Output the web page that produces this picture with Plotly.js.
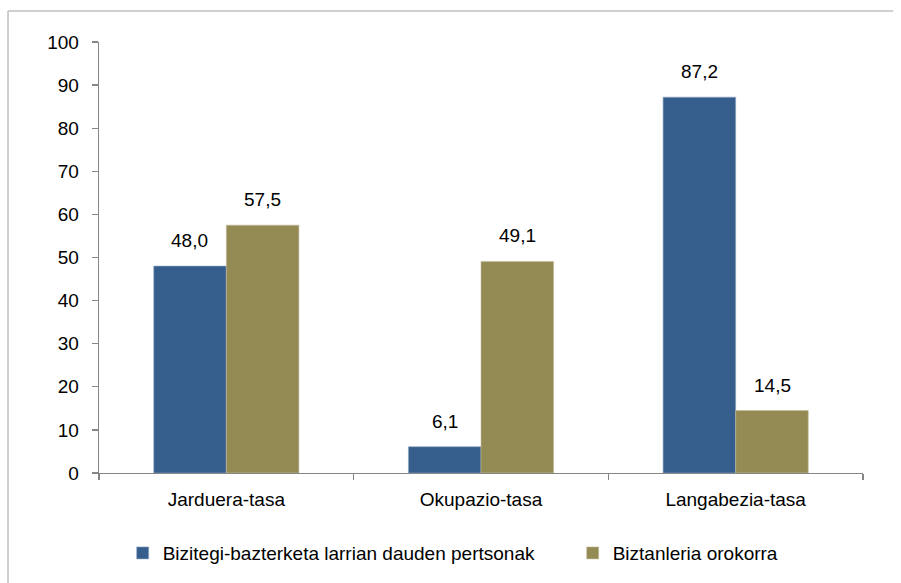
<!DOCTYPE html>
<html><head><meta charset="utf-8">
<script src="https://cdn.plot.ly/plotly-3.0.1.min.js"></script>
<style>html,body{margin:0;padding:0;background:#fff}#chart{width:901px;height:583px}</style>
</head><body><div id="chart"></div>
<script>
var categories = ["Jarduera-tasa", "Okupazio-tasa", "Langabezia-tasa"];
var seriesNames = ["Bizitegi-bazterketa larrian dauden pertsonak", "Biztanleria orokorra"];
var seriesA = [48.0, 6.1, 87.2];
var seriesB = [57.5, 49.1, 14.5];
var yTicks = [0, 10, 20, 30, 40, 50, 60, 70, 80, 90, 100];

var FONT = "Liberation Sans, Arial, sans-serif";
var FS = 19;
var colors = ["#355E8D", "#948A54"];

var traces = [
  {type: "bar", name: seriesNames[0], x: categories, y: seriesA, marker: {color: colors[0], line: {color: "#8FA4C0", width: 0.6}}, legend: "legend", hoverinfo: "none"},
  {type: "bar", name: seriesNames[1], x: categories, y: seriesB, marker: {color: colors[1], line: {color: "#C4BE9E", width: 0.6}}, legend: "legend2", hoverinfo: "none"}
];

function fmt(v){ return v.toFixed(1).replace(".", ","); }
var annotations = [];
[seriesA, seriesB].forEach(function(s, si){
  s.forEach(function(v, i){
    annotations.push({x: categories[i], y: v, xref: "x", yref: "y", text: fmt(v), showarrow: false,
      xshift: si === 0 ? -36.5 : 36.5, yshift: 13, yanchor: "bottom",
      font: {family: FONT, size: FS, color: "#000"}});
  });
});

var layout = {
  width: 901, height: 583,
  margin: {l: 99, r: 38, t: 42, b: 109},
  paper_bgcolor: "#fff", plot_bgcolor: "#fff",
  barmode: "group", bargap: 0.43, bargroupgap: 0,
  font: {family: FONT, size: FS, color: "#000"},
  xaxis: {type: "category", showline: true, linecolor: "#868686", linewidth: 1.3,
    ticks: "outside", tickson: "boundaries", ticklen: 6, tickcolor: "#868686", tickwidth: 1.3,
    ticklabelstandoff: 9,
    tickfont: {family: FONT, size: FS, color: "#000"}, showgrid: false, zeroline: false},
  yaxis: {range: [0, 100], tickvals: yTicks, showline: true, linecolor: "#868686", linewidth: 1.3,
    ticks: "outside", ticklen: 6, tickcolor: "#868686", tickwidth: 1.3,
    ticklabelstandoff: 9,
    tickfont: {family: FONT, size: FS, color: "#000"}, showgrid: false, zeroline: false},
  legend: {orientation: "h", x: 0.031, xanchor: "left", y: -0.183, yanchor: "middle", font: {family: FONT, size: FS}, bgcolor: "rgba(0,0,0,0)"},
  legend2: {orientation: "h", x: 0.620, xanchor: "left", y: -0.183, yanchor: "middle", font: {family: FONT, size: FS}, bgcolor: "rgba(0,0,0,0)"},
  annotations: annotations,
  shapes: [
    {type: "line", xref: "paper", yref: "paper", x0: -0.1191, x1: 1.0395, y0: 1.0718, y1: 1.0718, line: {color: "#BFBFBF", width: 1.5}},
    {type: "line", xref: "paper", yref: "paper", x0: -0.1191, x1: -0.1191, y0: 1.0718, y1: -0.26, line: {color: "#BFBFBF", width: 1.5}}
  ],
  showlegend: true
};

Plotly.newPlot("chart", traces, layout, {displayModeBar: false, staticPlot: true});
</script></body></html>
